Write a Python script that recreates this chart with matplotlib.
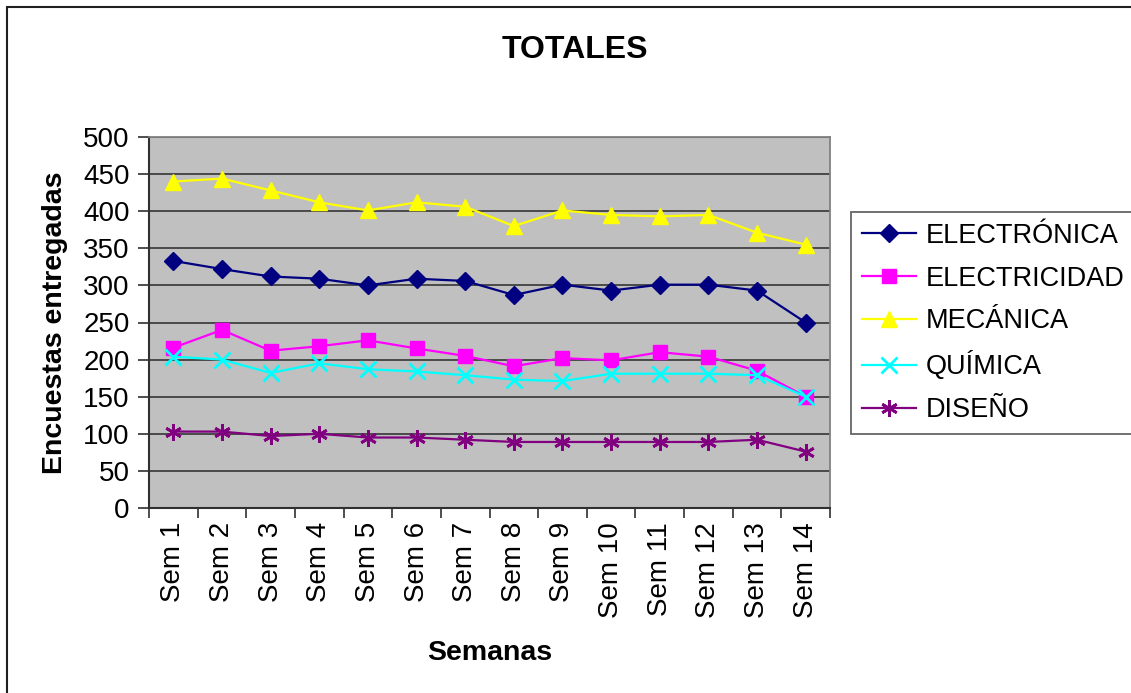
import matplotlib
matplotlib.use("Agg")
import matplotlib.pyplot as plt
from matplotlib.patches import Rectangle

plt.rcParams['font.family'] = ['Liberation Sans', 'DejaVu Sans']

semanas = ["Sem 1", "Sem 2", "Sem 3", "Sem 4", "Sem 5", "Sem 6", "Sem 7",
           "Sem 8", "Sem 9", "Sem 10", "Sem 11", "Sem 12", "Sem 13", "Sem 14"]

electronica = [333, 322, 312, 309, 300, 309, 306, 287, 301, 293, 301, 301, 293, 250]
electricidad = [216, 240, 212, 218, 226, 215, 205, 191, 202, 199, 210, 204, 185, 150]
mecanica = [440, 444, 428, 412, 401, 412, 406, 380, 401, 395, 393, 395, 371, 355]
quimica = [204, 200, 182, 195, 187, 184, 179, 173, 171, 181, 181, 181, 179, 150]
diseno = [103, 103, 97, 100, 95, 95, 92, 89, 89, 89, 89, 89, 92, 76]

series = [
    ("ELECTRÓNICA", electronica, "#000080", "D", 9.5),
    ("ELECTRICIDAD", electricidad, "#FF00FF", "s", 9.5),
    ("MECÁNICA", mecanica, "#FFFF00", "^", 11),
    ("QUÍMICA", quimica, "#00FFFF", "x", 11),
    ("DISEÑO", diseno, "#800080", (6, 2, 0), 12),
]

fig = plt.figure(figsize=(11.31, 6.93), dpi=100)
ax = fig.add_axes([149 / 1131, 1 - 508 / 693, 681 / 1131, 371 / 693])
ax.set_facecolor("#C0C0C0")

x = list(range(1, len(semanas) + 1))
for name, vals, color, marker, ms in series:
    ax.plot(x, vals, color=color, marker=marker, markersize=ms, linewidth=1.6,
            markeredgewidth=2 if marker in ("x", (6, 2, 0)) else 1,
            markeredgecolor=color, markerfacecolor=color, label=name, zorder=3)

ax.set_xlim(0.5, len(semanas) + 0.5)
ax.set_ylim(0, 500)
ax.set_yticks(range(0, 501, 50))
ax.yaxis.grid(True, color="#404040", linewidth=1.3)
ax.set_axisbelow(True)

ax.set_xticks([i + 0.5 for i in range(0, len(semanas) + 1)])
ax.set_xticklabels([])
ax.set_xticks(x, minor=True)
ax.set_xticklabels(semanas, minor=True, rotation=90, fontsize=20)
ax.tick_params(axis="x", which="major", length=7, width=1.3, color="#404040", direction="out")
ax.tick_params(axis="x", which="minor", length=0, pad=10)
ax.tick_params(axis="y", length=8, width=1.3, color="#404040", labelsize=20, pad=6)

for side in ("top", "right"):
    ax.spines[side].set_color("#808080")
    ax.spines[side].set_linewidth(1.3)
for side in ("left", "bottom"):
    ax.spines[side].set_color("#303030")
    ax.spines[side].set_linewidth(1.5)

ax.set_xlabel("Semanas", fontsize=20.5, fontweight="bold", va="center")
ax.xaxis.set_label_coords(0.5, (508 - 653) / 371)
ax.set_ylabel("Encuestas entregadas", fontsize=20.5, fontweight="bold", va="center")
ax.yaxis.set_label_coords((55 - 149) / 681, 0.5)

fig.text(575 / 1131, 1 - 50 / 693, "TOTALES", fontsize=23, fontweight="bold",
         ha="center", va="center")

leg = fig.legend(loc="upper left", bbox_to_anchor=(851 / 1131, 1 - 212 / 693),
                 fontsize=19.5, frameon=True, fancybox=False, handlelength=2.0,
                 labelspacing=0.62, borderpad=0.4, handletextpad=0.35,
                 borderaxespad=0)
leg.get_frame().set_edgecolor("#404040")
leg.get_frame().set_linewidth(1.3)

fig.patches.append(Rectangle((7 / 1131, -0.1), 1.2, 1.1 - 7.5 / 693,
                             transform=fig.transFigure, fill=False,
                             edgecolor="#202020", linewidth=1.5))

fig.savefig("out.png", dpi=100)
